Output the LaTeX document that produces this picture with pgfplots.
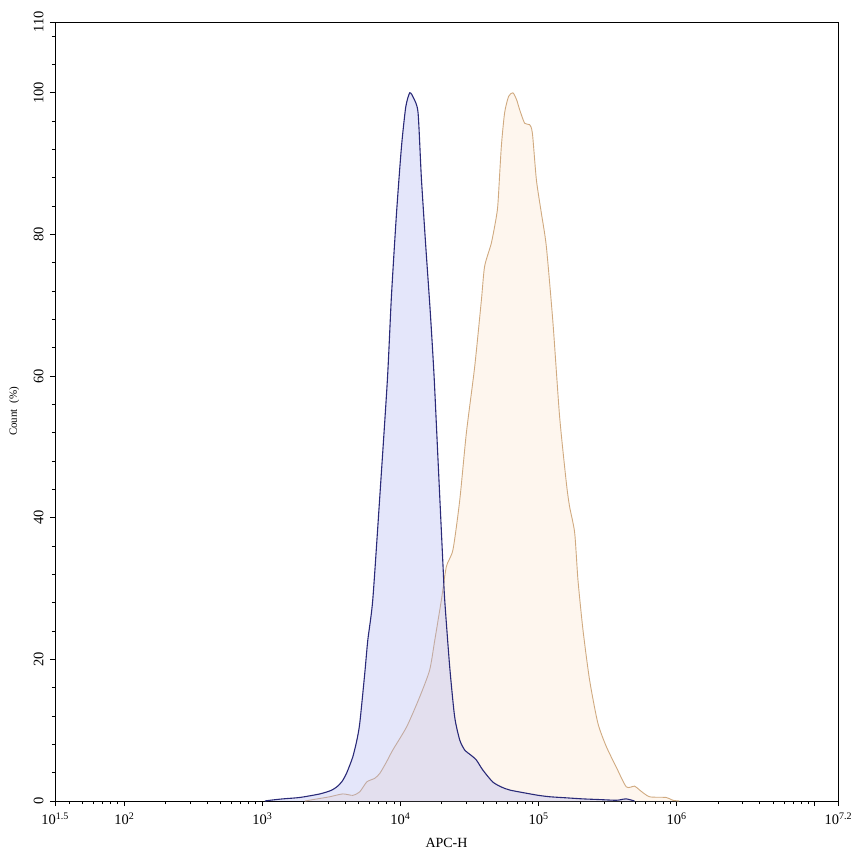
\documentclass[border=0pt]{standalone}
\usepackage{pgfplots}
\pgfplotsset{compat=1.18}
\usepackage{pgfplotstable}
\usepackage{fontspec}
\setmainfont{Liberation Serif}

\definecolor{blueline}{RGB}{42,42,120}
\definecolor{bluefill}{RGB}{165,172,238}
\definecolor{orangeline}{RGB}{208,170,128}
\definecolor{orangefill}{RGB}{254,246,238}

% x is log10(APC-H), y is Count (%)
\pgfplotstableread{
x y
3.020 0
3.056 0.1
3.150 0.3
3.273 0.5
3.418 1.0
3.500 1.5
3.541 2.0
3.580 2.8
3.613 4.0
3.656 6.2
3.685 8.5
3.707 11
3.743 18
3.765 22.7
3.801 28.4
3.852 43
3.907 59.5
3.936 71.2
3.973 83
4.009 92.4
4.040 98
4.069 100
4.098 99.2
4.129 97.2
4.153 88
4.185 78.3
4.218 68.9
4.245 60
4.274 48
4.310 33.1
4.322 28.4
4.358 19
4.394 11.9
4.431 8.6
4.467 7.2
4.510 6.5
4.551 5.8
4.597 4.4
4.669 2.7
4.730 2.0
4.792 1.55
4.913 1.1
5.000 0.8
5.082 0.6
5.200 0.45
5.321 0.3
5.444 0.2
5.564 0.1
5.600 0.2
5.637 0.3
5.697 0
}\control

\pgfplotstableread{
x y
3.309 0
3.400 0.3
3.490 0.6
3.584 1.0
3.656 0.8
3.707 1.3
3.758 2.7
3.815 3.2
3.852 3.9
3.900 5.5
3.946 7.2
4.047 10.5
4.141 14.7
4.213 18.5
4.250 22.7
4.298 28.4
4.334 33.1
4.382 35.5
4.431 42.5
4.479 52
4.539 61.3
4.588 70.8
4.611 75.5
4.660 78.8
4.696 82.5
4.708 84.5
4.732 92.4
4.756 97.2
4.785 99.5
4.816 100
4.843 99
4.865 97.6
4.901 95.7
4.937 95.5
4.957 94.3
4.986 87.7
5.022 83
5.058 78.3
5.106 67.5
5.154 54.3
5.203 44.9
5.226 41.6
5.263 37.9
5.287 31.2
5.323 24.2
5.371 17.1
5.431 11
5.492 7.7
5.564 4.8
5.637 2.0
5.697 2.1
5.733 1.55
5.805 0.6
5.926 0.5
5.974 0.1
6.022 0
}\stained

\newcommand{\tp}[1]{10\raisebox{5.5pt}{\fontsize{10}{10}\selectfont #1}}

\begin{document}
\begin{tikzpicture}
\begin{axis}[
  at={(0,0)}, anchor=south west,
  scale only axis,
  width=783pt, height=779pt,
  xmin=1.5, xmax=7.17,
  ymin=0, ymax=110,
  axis line style={line width=0.9pt},
  tick style={black, line width=0.7pt},
  tick align=outside,
  xtick pos=bottom, ytick pos=left,
  major tick length=5pt, minor tick length=3pt,
  xtick={1.5,2,3,4,5,6,7,7.17},
  xticklabels={\tp{1.5},\tp{2},\tp{3},\tp{4},\tp{5},\tp{6},{},\tp{7.2}},
  minor xtick={1.602,1.699,1.778,1.845,1.903,1.954,
    2.301,2.477,2.602,2.699,2.778,2.845,2.903,2.954,
    3.301,3.477,3.602,3.699,3.778,3.845,3.903,3.954,
    4.301,4.477,4.602,4.699,4.778,4.845,4.903,4.954,
    5.301,5.477,5.602,5.699,5.778,5.845,5.903,5.954,
    6.301,6.477,6.602,6.699,6.778,6.845,6.903,6.954},
  ytick={0,20,40,60,80,100,110},
  minor ytick={4,8,12,16,24,28,32,36,44,48,52,56,64,68,72,76,84,88,92,96,104,108},
  /pgf/number format/assume math mode=true,
  tick label style={font=\fontsize{14.5}{16}\selectfont},
  xticklabel shift=3pt,
  yticklabel style={rotate=90, anchor=south},
  yticklabel shift=3pt,
  xlabel={APC-H},
  xlabel style={font=\fontsize{14}{16}\selectfont, at={(axis description cs:0.5,-0.054)}, anchor=center},
  ylabel={Count\ \ (\%)},
  ylabel style={font=\fontsize{11}{13}\selectfont, at={(axis description cs:-0.052,0.5)}, anchor=center},
]
\addplot [draw=none, fill=orangefill, smooth, tension=0.4] table {\stained} \closedcycle;
\addplot [orangeline, line width=0.9pt, smooth, tension=0.4] table {\stained};
\addplot [draw=none, fill=bluefill, fill opacity=0.3, smooth, tension=0.4] table {\control} \closedcycle;
\addplot [blueline, line width=1.1pt, smooth, tension=0.4] table {\control};
\end{axis}
\pgfresetboundingbox
\path[use as bounding box] (-55pt,-55pt) rectangle (798pt,801pt);
\end{tikzpicture}
\end{document}
